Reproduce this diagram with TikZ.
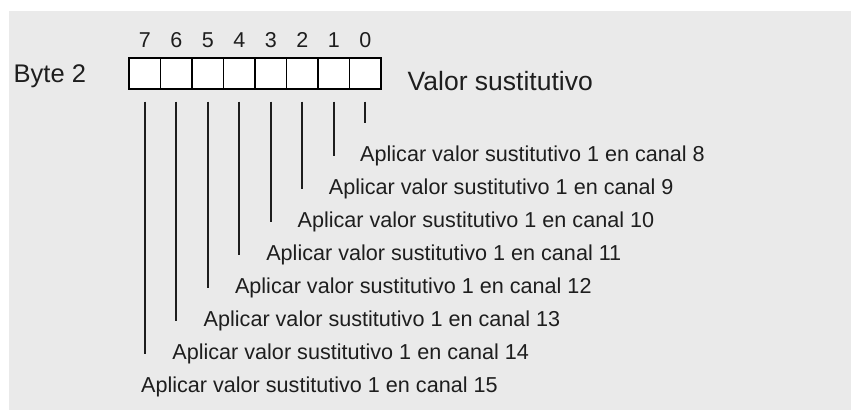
\documentclass[tikz,border=0pt]{standalone}
\usepackage{fontspec}
\setmainfont{Liberation Sans}
\definecolor{bg}{RGB}{234,234,234}
\definecolor{txt}{RGB}{30,30,30}
\begin{document}
\begin{tikzpicture}[x=1pt,y=-1pt,
  cell/.style={draw=black, fill=white, line width=1.7pt, minimum width=31.5pt, minimum height=31pt, inner sep=0pt, outer sep=0pt},
  lbl/.style={anchor=base west, inner sep=0pt, font=\fontsize{21.6}{24}\selectfont, text=txt},
  bitnum/.style={anchor=base, inner sep=0pt, font=\fontsize{21.5}{24}\selectfont, text=txt},
  bigtxt/.style={anchor=base west, inner sep=0pt, text=txt},
  conn/.style={line width=1.7pt, draw=txt}]
\useasboundingbox (0,0) rectangle (851,410);
\fill[bg] (9,11) rectangle (851,410);
\foreach \b in {0,1,2,3,4,5,6,7} {
  \pgfmathsetmacro\cx{129+31.5*(7.5-\b)}
  \pgfmathtruncatemacro\ch{8+\b}
  \node[cell] (c\b) at (\cx,73.5) {};
  \node[bitnum] (n\b) at (\cx,47.7) {\b};
  \node[lbl] (l\b) at ({360-31.3*\b},{161.7+33*\b}) {Aplicar valor sustitutivo 1 en canal \ch};
  \coordinate (e\b) at (\cx,{123+33*\b});
  \draw[conn] ([yshift=-12.5pt]c\b.south) -- (e\b);
}
\node[bigtxt, font=\fontsize{25.5}{30}\selectfont] (byte) at (13.5,82.7) {Byte 2};
\node[bigtxt, font=\fontsize{26.5}{30}\selectfont] (valor) at (407.5,90.8) {Valor sustitutivo};
\end{tikzpicture}
\end{document}
